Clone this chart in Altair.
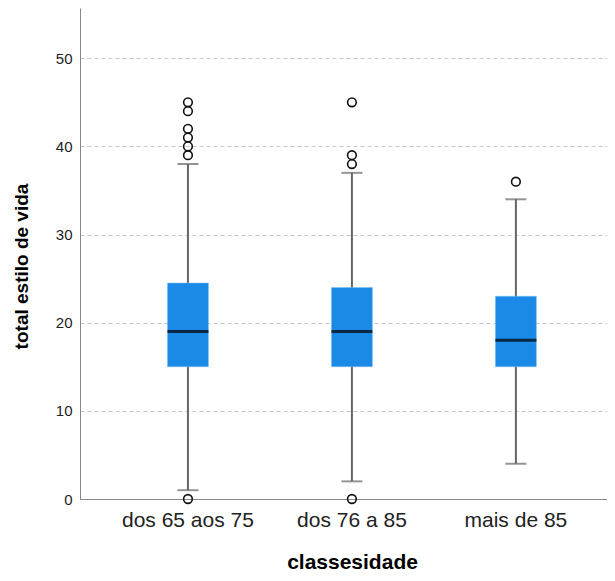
import altair as alt
import pandas as pd

categories = ["dos 65 aos 75", "dos 76 a 85", "mais de 85"]
q1 = [15, 15, 15]
median = [19, 19, 18]
q3 = [24.5, 24, 23]
whisker_low = [1, 2, 4]
whisker_high = [38, 37, 34]
outlier_cat = ["dos 65 aos 75"] * 7 + ["dos 76 a 85"] * 4 + ["mais de 85"]
outlier_val = [45, 44, 42, 41, 40, 39, 0, 45, 39, 38, 0, 36]

box_df = pd.DataFrame({
    "cat": categories, "q1": q1, "median": median, "q3": q3,
    "lo": whisker_low, "hi": whisker_high,
})
out_df = pd.DataFrame({"cat": outlier_cat, "val": outlier_val})

FONT = "Liberation Sans"
H = 491
W = 527

xscale = alt.Scale(domain=categories, paddingInner=0, paddingOuter=0.107, align=0.74)
yscale = alt.Scale(domain=[0, 55.7], nice=False, zero=False)

x = alt.X("cat:N", scale=xscale, sort=categories,
          axis=alt.Axis(title="classesidade", labelAngle=0, ticks=False,
                        labelFontSize=21, labelColor="#222", labelFont=FONT,
                        labelPadding=10, titleFont=FONT, titleFontSize=21,
                        titleFontWeight="bold", titleColor="#000",
                        titlePadding=21, titleX=272,
                        domainColor="#888", domainWidth=1, grid=False))

yaxis = alt.Axis(title="total estilo de vida", values=[0, 10, 20, 30, 40, 50],
                 ticks=False, labelFontSize=15, labelFont=FONT, labelColor="#222",
                 labelPadding=8, titleFont=FONT, titleFontSize=19,
                 titleFontWeight="bold", titleColor="#000", titlePadding=24,
                 titleY=258, domainColor="#888", domainWidth=1,
                 grid=True, gridDash=[4, 3], gridColor="#c4c4c4", gridWidth=1)

base = alt.Chart(box_df)

whisk = base.mark_rule(color="#666", strokeWidth=2).encode(
    x=x, y=alt.Y("lo:Q", scale=yscale, axis=yaxis), y2="hi:Q")

box = base.mark_bar(size=41, color="#1a8ae6", stroke="#7fbff2", strokeWidth=0.5).encode(
    x=x, y=alt.Y("q1:Q", scale=yscale), y2="q3:Q")

med = base.mark_tick(size=41, thickness=3, color="#000", orient="horizontal").encode(
    x=x, y=alt.Y("median:Q", scale=yscale))

cap_lo = base.mark_tick(size=21, thickness=2, color="#666", orient="horizontal").encode(
    x=x, y=alt.Y("lo:Q", scale=yscale))
cap_hi = base.mark_tick(size=21, thickness=2, color="#666", orient="horizontal").encode(
    x=x, y=alt.Y("hi:Q", scale=yscale))

pts = alt.Chart(out_df).mark_point(shape="circle", filled=False, size=75,
                                    stroke="#111", strokeWidth=1.6, opacity=1).encode(
    x=x, y=alt.Y("val:Q", scale=yscale))

chart = alt.layer(whisk, box, med, cap_lo, cap_hi, pts).properties(
    width=W, height=H,
    view=alt.ViewBackground(stroke="white", strokeWidth=0, strokeOpacity=0),
    autosize=alt.AutoSizeParams(type="none"),
    padding={"left": 72, "top": 0, "right": 0, "bottom": 74},
).configure_view(strokeWidth=0, stroke="white", strokeOpacity=0).configure(background="white")

chart.save("out.html", embed_options={"renderer": "svg", "actions": False})
